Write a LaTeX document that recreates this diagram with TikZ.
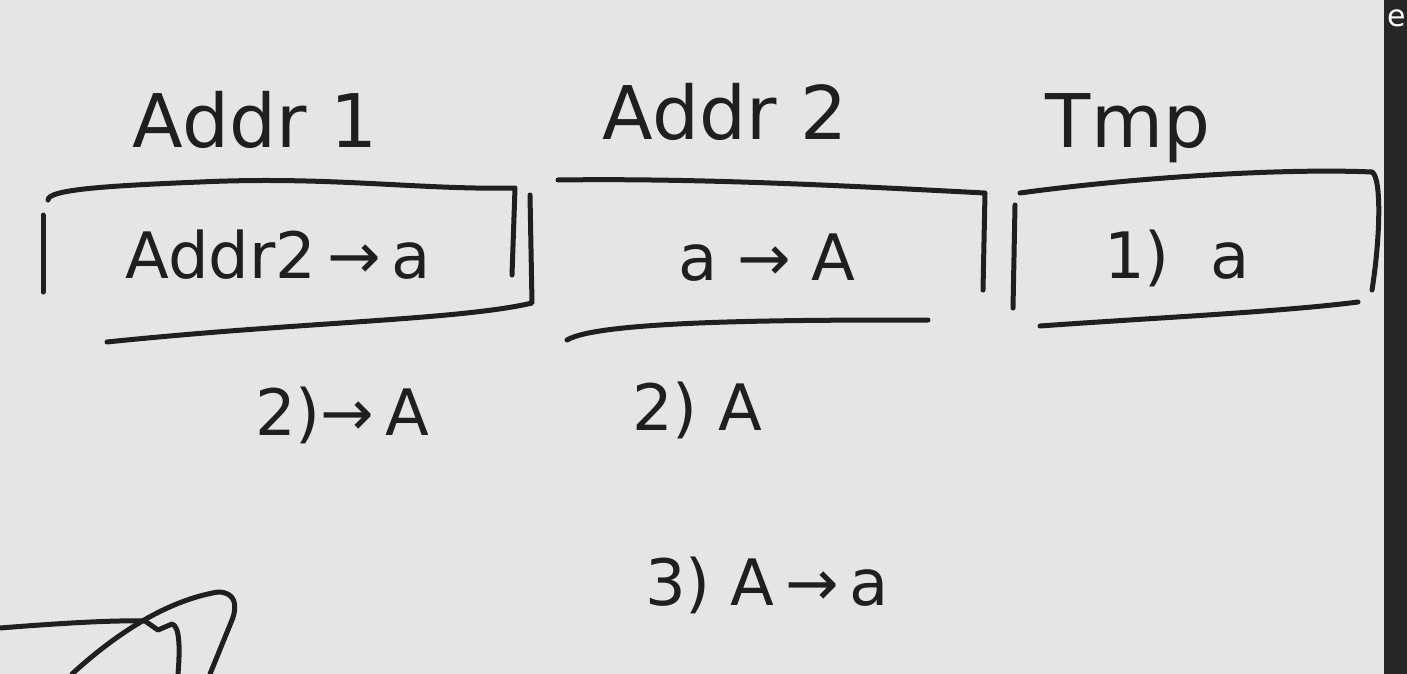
\documentclass[tikz,border=0pt]{standalone}
\usepackage{fontspec}
\setmainfont{DejaVu Sans}
\begin{document}
\begin{tikzpicture}[x=1pt,y=-1pt,
  ink/.style={line width=5pt,line cap=round,line join=round,draw=black!88},
  lbl/.style={font=\fontsize{74}{80}\selectfont,text=black!88,inner sep=0pt},
  small/.style={font=\fontsize{64}{70}\selectfont,text=black!88,inner sep=0pt}]
\useasboundingbox (0,0) rectangle (1407,674);
\fill[black!10] (0,0) rectangle (1407,674);
\fill[black!85] (1384,0) rectangle (1407,674);
\node[font=\fontsize{30}{32}\selectfont,text=white,inner sep=0pt] (edge) at (1397,18) {e};
% headings
\node[lbl] (h1) at (255,120) {Addr 1};
\node[lbl] (h2) at (725,112) {Addr 2};
\node[lbl] (h3) at (1128,128) {Tmp};
% box contents
\node[small] (c1) at (278,255) {Addr2\,→\,a};
\node[small] (c2) at (767,258) {a → A};
\node[small] (c3) at (1177,258) {1)\ \ a};
% below
\node[small] (s1) at (342,415) {2)→\,A};
\node[small] (s2) at (697,410) {2)\ A};
\node[small] (s3) at (767,585) {3)\ A\,→\,a};
% box 1
\draw[ink] (48,200) .. controls (48,190) and (100,186) .. (200,182) .. controls (330,176) and (420,190) .. (515,188) -- (512,275);
\draw[ink] (43,215) -- (43,292);
\draw[ink] (530,195) -- (532,303) .. controls (460,320) and (300,322) .. (107,342);
% box 2
\draw[ink] (558,180) .. controls (700,178) and (850,186) .. (985,193) -- (983,290);
\draw[ink] (567,340) .. controls (600,320) and (800,320) .. (928,320);
% box 3
\draw[ink] (1020,193) .. controls (1130,178) and (1280,168) .. (1372,172) .. controls (1382,178) and (1380,240) .. (1372,290);
\draw[ink] (1015,205) -- (1013,308);
\draw[ink] (1040,326) .. controls (1150,318) and (1280,312) .. (1358,302);
% scribble bottom-left
\draw[ink] (0,628) .. controls (50,624) and (110,620) .. (145,621) -- (158,630) -- (172,624) .. controls (180,626) and (180,650) .. (178,674);
\draw[ink] (72,674) .. controls (120,630) and (170,600) .. (218,592) .. controls (235,592) and (238,605) .. (232,620) -- (210,674);
\end{tikzpicture}
\end{document}
